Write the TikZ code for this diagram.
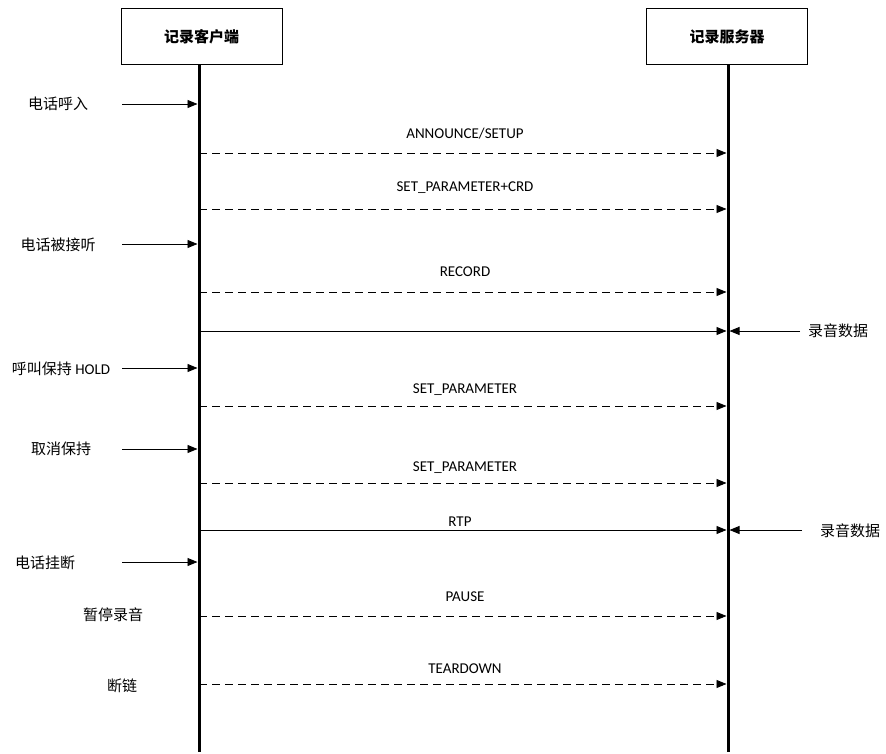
\documentclass[tikz,border=0pt]{standalone}
\usepackage{fontspec}
\setmainfont{Carlito}
\newfontfamily\cjk{Noto Sans CJK SC}
\usetikzlibrary{arrows.meta}
\begin{document}
\begin{tikzpicture}[x=1pt,y=-1pt,
  every node/.style={font=\fontsize{15}{18}\selectfont, inner sep=0pt},
  actor/.style={draw, line width=1pt, minimum width=161pt, minimum height=56pt, inner sep=0pt,
    font=\fontsize{15}{18}\selectfont\cjk\bfseries},
  life/.style={line width=3pt},
  msg/.style={line width=0.9pt, -{Triangle[length=10pt,width=8pt]}, shorten >=1.5pt},
  dmsg/.style={msg, dash pattern=on 8pt off 5pt},
  zh/.style={font=\fontsize{15}{18}\selectfont\cjk},
]
\useasboundingbox (0,0) rectangle (886,754);

% actors
\node[actor] (cl) at (201.5,37) {记录客户端};
\node[actor] (sv) at (727,37) {记录服务器};
\coordinate (clb) at (199,752);
\coordinate (svb) at (728,752);
\draw[life] (clb |- cl.south) -- (clb);
\draw[life] (svb |- sv.south) -- (svb);

% incoming events on the client side
\foreach \n/\y in {a/104, b/244, c/368, d/449, e/562}{
  \coordinate (in\n) at (122,\y);
  \coordinate (cl\n) at (199,\y);
  \draw[msg] (in\n) -- (cl\n);
}
\node[zh] (ta) at (58,104) {电话呼入};
\node[zh] (tb) at (58,245) {电话被接听};
\node[zh] (tc) at (61,369) {呼叫保持 {\fontspec{Carlito}HOLD}};
\node[zh] (td) at (61,449) {取消保持};
\node[zh] (te) at (45,563) {电话挂断};
\node[zh] (tf) at (113,615) {暂停录音};
\node[zh] (tg) at (122,686) {断链};

% messages client -> server
\foreach \n/\y in {m1/153, m2/209, m3/292, m4/331, m5/406, m6/483, m7/530, m8/616, m9/684}{
  \coordinate (L\n) at (199,\y);
  \coordinate (R\n) at (728,\y);
}
\draw[dmsg] (Lm1) -- (Rm1);
\draw[dmsg] (Lm2) -- (Rm2);
\draw[dmsg] (Lm3) -- (Rm3);
\draw[msg]  (Lm4) -- (Rm4);
\draw[dmsg] (Lm5) -- (Rm5);
\draw[dmsg] (Lm6) -- (Rm6);
\draw[msg]  (Lm7) -- (Rm7);
\draw[dmsg] (Lm8) -- (Rm8);
\draw[dmsg] (Lm9) -- (Rm9);

\node (l1) at (465,134) {ANNOUNCE/SETUP};
\node (l2) at (465,188) {SET\_PARAMETER+CRD};
\node (l3) at (465,272) {RECORD};
\node (l5) at (465,390) {SET\_PARAMETER};
\node (l6) at (465,468) {SET\_PARAMETER};
\node (l7) at (460,522) {RTP};
\node (l8) at (465,597) {PAUSE};
\node (l9) at (465,669) {TEARDOWN};

% recorded audio data into server
\coordinate (s1) at (800,331);
\coordinate (s2) at (802,530);
\draw[msg] (s1) -- (Rm4);
\draw[msg] (s2) -- (Rm7);
\node[zh] (r1) at (838,331) {录音数据};
\node[zh] (r2) at (850,531) {录音数据};
\end{tikzpicture}
\end{document}
